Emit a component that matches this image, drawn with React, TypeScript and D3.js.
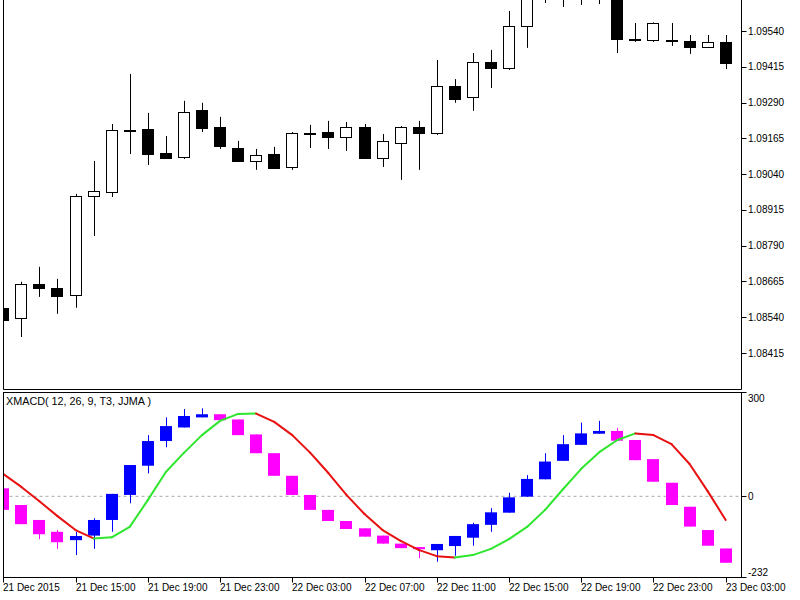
import React from 'react';
import * as d3 from 'd3';

// ---- Data ----
const tickLabels = [
  '21 Dec 2015', '21 Dec 15:00', '21 Dec 19:00', '21 Dec 23:00', '22 Dec 03:00',
  '22 Dec 07:00', '22 Dec 11:00', '22 Dec 15:00', '22 Dec 19:00', '22 Dec 23:00', '23 Dec 03:00',
];
const priceTicks = [1.0954, 1.09415, 1.0929, 1.09165, 1.0904, 1.08915, 1.0879, 1.08665, 1.0854, 1.08415];
const macdTicks = [300, 0, -232];

const opens = [
  1.08573, 1.08538, 1.08657, 1.08643, 1.08618, 1.08964, 1.08978, 1.09194, 1.09198, 1.09114,
  1.09100, 1.09264, 1.09205, 1.09131, 1.09086, 1.09110, 1.09065, 1.09184, 1.09187, 1.09170,
  1.09205, 1.09097, 1.09149, 1.09205, 1.09184, 1.09348, 1.09310, 1.09432, 1.09411, 1.09557,
  1.09701, 1.09676, 1.09711, 1.09683, 1.09666, 1.09512, 1.09509, 1.09509, 1.09505, 1.09484,
  1.09502,
];
const highs = [
  1.08580, 1.08664, 1.08716, 1.08674, 1.08971, 1.09086, 1.09215, 1.09390, 1.09254, 1.09173,
  1.09296, 1.09289, 1.09240, 1.09156, 1.09128, 1.09135, 1.09187, 1.09212, 1.09226, 1.09222,
  1.09215, 1.09180, 1.09208, 1.09226, 1.09439, 1.09372, 1.09463, 1.09474, 1.09610, 1.09753,
  1.09753, 1.09771, 1.09753, 1.09736, 1.09701, 1.09568, 1.09570, 1.09568, 1.09526, 1.09526,
  1.09526,
];
const lows = [
  1.08527, 1.08471, 1.08611, 1.08552, 1.08573, 1.08824, 1.08960, 1.09110, 1.09072, 1.09093,
  1.09093, 1.09187, 1.09128, 1.09086, 1.09055, 1.09062, 1.09055, 1.09131, 1.09128, 1.09121,
  1.09093, 1.09065, 1.09020, 1.09055, 1.09177, 1.09289, 1.09261, 1.09341, 1.09404, 1.09481,
  1.09638, 1.09624, 1.09631, 1.09634, 1.09463, 1.09502, 1.09502, 1.09488, 1.09460, 1.09481,
  1.09407,
];
const closes = [
  1.08531, 1.08657, 1.08643, 1.08615, 1.08964, 1.08981, 1.09194, 1.09191, 1.09110, 1.09097,
  1.09257, 1.09201, 1.09138, 1.09086, 1.09107, 1.09062, 1.09184, 1.09183, 1.09170, 1.09205,
  1.09097, 1.09156, 1.09205, 1.09184, 1.09348, 1.09303, 1.09432, 1.09411, 1.09557, 1.09701,
  1.09676, 1.09711, 1.09683, 1.09666, 1.09512, 1.09511, 1.09568, 1.09508, 1.09484, 1.09502,
  1.09428,
];

const macdOpen = [23, -25, -68, -102, -126, -113, -68, 4, 88, 159, 198, 227, 236, 221, 178, 124, 59, 4, -39, -71, -92, -113, -136, -146, -155, -143, -119, -82, -47, -1, 49, 102, 148, 180, 188, 162, 107, 39, -30, -97, -150];
const macdClose = [-39, -80, -109, -132, -114, -68, 7, 90, 159, 202, 231, 236, 219, 176, 124, 59, 4, -39, -71, -94, -116, -136, -149, -152, -137, -114, -80, -46, -3, 50, 100, 150, 181, 188, 160, 104, 42, -25, -87, -142, -191];
const macdHigh = [23, -25, -68, -97, -102, -63, 7, 90, 176, 227, 251, 253, 236, 221, 178, 124, 59, 4, -39, -71, -92, -113, -136, -146, -137, -114, -76, -34, 10, 61, 124, 176, 212, 217, 197, 162, 107, 39, -30, -97, -150];
const macdLow = [-39, -80, -123, -151, -169, -151, -102, -20, 66, 141, 198, 227, 219, 176, 124, 59, 4, -39, -71, -94, -116, -136, -149, -178, -188, -171, -142, -102, -47, -1, 49, 102, 148, 180, 160, 104, 42, -25, -87, -142, -191];
const signal = [64, 27, -14, -57, -97, -121, -118, -88, -11, 70, 125, 176, 217, 237, 238, 214, 176, 125, 67, 4, -51, -97, -128, -154, -172, -176, -169, -151, -123, -88, -39, 21, 79, 127, 162, 181, 176, 150, 93, 15, -68];

// ---- Layout ----
const W = 800;
const H = 600;
const L = 3.5;
const R = 741.5;
const TOP_B = 389.5;
const BOT_T = 392.5;
const BOT_B = 577.5;
const FONT = '"Liberation Sans", Arial, sans-serif';

export default function App() {
  const n = opens.length;
  const x = d3.scaleLinear().domain([0, n - 1]).range([3.3, 725.7]);
  const yP = d3.scaleLinear().domain([1.08415, 1.0954]).range([353, 31]);
  const yM = d3.scaleLinear().domain([-232, 300]).range([577, 392]);

  const idx = d3.range(n);
  const line = d3.line<number>().x((i) => x(i)).y((i) => yM(signal[i]));

  return (
    <div style={{ position: 'absolute', left: 0, top: 0 }}>
      <svg width={W} height={H} style={{ display: 'block', background: '#fff' }} fontFamily={FONT}>
        <defs>
          <clipPath id="clipTop">
            <rect x={4} y={0} width={737} height={389} />
          </clipPath>
          <clipPath id="clipBot">
            <rect x={4} y={393} width={737} height={184} />
          </clipPath>
        </defs>
        <rect x={0} y={0} width={W} height={H} fill="#fff" />

        {/* Price candles */}
        <g clipPath="url(#clipTop)">
          {idx.map((i) => {
            const cx = Math.round(x(i));
            const o = yP(opens[i]);
            const c = yP(closes[i]);
            const up = closes[i] >= opens[i];
            const top = Math.round(Math.min(o, c));
            const hgt = Math.max(1, Math.round(Math.abs(o - c)));
            return (
              <g key={i}>
                <line x1={cx + 0.5} x2={cx + 0.5} y1={yP(highs[i])} y2={yP(lows[i])} stroke="#000" strokeWidth={1} />
                <rect
                  x={cx - 5.5}
                  y={top + 0.5}
                  width={11}
                  height={hgt}
                  fill={up ? '#fff' : '#000'}
                  stroke="#000"
                  strokeWidth={1}
                />
              </g>
            );
          })}
        </g>

        {/* MACD panel */}
        <line x1={L} x2={R} y1={yM(0)} y2={yM(0)} stroke="#a8a8a8" strokeWidth={1} strokeDasharray="3,3" />
        <g clipPath="url(#clipBot)">
          {idx.map((i) => {
            const cx = Math.round(x(i));
            const o = yM(macdOpen[i]);
            const c = yM(macdClose[i]);
            const up = macdClose[i] >= macdOpen[i];
            const col = up ? '#0000ff' : '#ff00ff';
            const top = Math.min(o, c);
            const hgt = Math.max(2, Math.abs(o - c));
            return (
              <g key={i}>
                <line x1={cx + 0.5} x2={cx + 0.5} y1={yM(macdHigh[i])} y2={yM(macdLow[i])} stroke={col} strokeWidth={1} />
                <rect x={cx - 6} y={top} width={12} height={hgt} fill={col} />
              </g>
            );
          })}
          {idx.slice(0, n - 1).map((i) => (
            <path
              key={'s' + i}
              d={line([i, i + 1]) || ''}
              stroke={signal[i + 1] >= signal[i] ? '#2ee62e' : '#e81010'}
              strokeWidth={2}
              fill="none"
              strokeLinecap="round"
            />
          ))}
        </g>
        <text x={6} y={405} fontSize={10.8} fill="#000">XMACD( 12, 26, 9, T3, JJMA )</text>

        {/* Frames */}
        <path d={`M${L},0 V${TOP_B} H${R} V0`} fill="none" stroke="#000" strokeWidth={1} />
        <rect x={L} y={BOT_T} width={R - L} height={BOT_B - BOT_T} fill="none" stroke="#000" strokeWidth={1} />

        {/* Price axis */}
        {priceTicks.map((p) => (
          <g key={p}>
            <line x1={R} x2={R + 5} y1={Math.round(yP(p)) + 0.5} y2={Math.round(yP(p)) + 0.5} stroke="#000" />
            <text x={748} y={yP(p) + 3.5} fontSize={10} fill="#000">{p.toFixed(5)}</text>
          </g>
        ))}

        {/* MACD axis */}
        {macdTicks.map((v, j) => {
          const yy = yM(v);
          const ty = j === 0 ? yy + 9.5 : j === macdTicks.length - 1 ? yy - 1.5 : yy + 3.5;
          return (
            <g key={v}>
              <line x1={R} x2={R + 5} y1={Math.round(yy) + 0.5} y2={Math.round(yy) + 0.5} stroke="#000" />
              <text x={748} y={ty} fontSize={10} fill="#000">{String(v)}</text>
            </g>
          );
        })}

        {/* Time axis */}
        {tickLabels.map((t, j) => {
          const tx = Math.round(x(j * 4));
          return (
            <g key={t}>
              <line x1={tx + 0.5} x2={tx + 0.5} y1={BOT_B} y2={BOT_B + 5} stroke="#000" />
              <text x={j === 0 ? 3 : tx} y={591} fontSize={10} fill="#000">{t}</text>
            </g>
          );
        })}
      </svg>
    </div>
  );
}
